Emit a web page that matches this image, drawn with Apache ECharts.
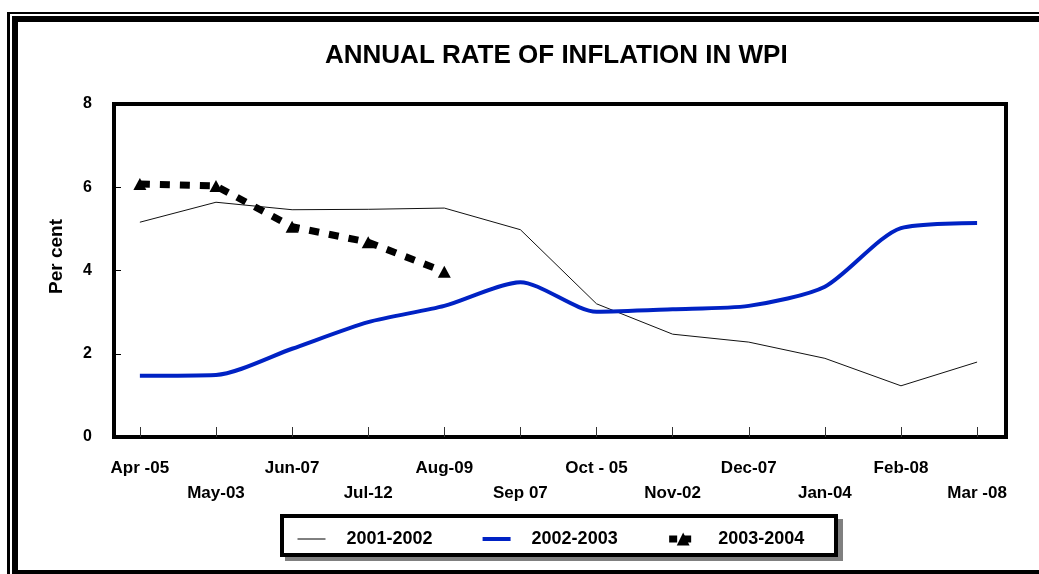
<!DOCTYPE html>
<html lang="en">

<head>
    <meta charset="UTF-8">
    <title>WPI inflation</title>
    <script src="https://cdn.jsdelivr.net/npm/echarts@6/dist/echarts.min.js"></script>
    <style>
        html,
        body {
            margin: 0;
            padding: 0;
            background: #fff;
        }
    </style>
</head>

<body>
    <div id="main" style="width: 1039px;height: 574px;"></div>
    <script type="text/javascript">
        // month labels (as printed on the chart)
        var months = ['Apr -05', 'May-03', 'Jun-07', 'Jul-12', 'Aug-09', 'Sep 07', 'Oct - 05', 'Nov-02', 'Dec-07', 'Jan-04', 'Feb-08', 'Mar -08'];
        var seriesNames = ['2001-2002', '2002-2003', '2003-2004'];
        // per cent
        var inf0102 = [5.16, 5.64, 5.46, 5.47, 5.5, 4.98, 3.2, 2.47, 2.28, 1.89, 1.23, 1.8];
        var inf0203 = [1.47, 1.49, 2.12, 2.76, 3.15, 3.72, 3.01, 3.07, 3.15, 3.61, 5.02, 5.14];
        var inf0304 = [6.08, 6.03, 5.05, 4.68, 3.97];
        var yTicks = [0, 2, 4, 6, 8];

        var font = 'Liberation Sans, Arial, sans-serif';

        function pairs(arr) {
            return arr.map(function (v, i) { return [i, v]; });
        }
        var idx = months.map(function (m, i) { return i; });

        var myEcharts = echarts.init(document.getElementById('main'));
        var option = {
            animation: false,
            backgroundColor: '#fff',
            title: {
                text: 'ANNUAL RATE OF INFLATION IN WPI',
                left: 325,
                top: 43,
                padding: 0,
                textStyle: {
                    fontFamily: font,
                    fontSize: 26,
                    fontWeight: 'bold',
                    color: '#000'
                }
            },
            //外框和图例框
            graphic: [
                { type: 'rect', z: 0, shape: { x: 7, y: 12, width: 1032, height: 2 }, style: { fill: '#000' } },
                { type: 'rect', z: 0, shape: { x: 7, y: 12, width: 3, height: 562 }, style: { fill: '#000' } },
                { type: 'rect', z: 0, shape: { x: 12, y: 16, width: 1027, height: 6 }, style: { fill: '#000' } },
                { type: 'rect', z: 0, shape: { x: 12, y: 16, width: 6, height: 558 }, style: { fill: '#000' } },
                { type: 'rect', z: 0, shape: { x: 12, y: 570, width: 1027, height: 4 }, style: { fill: '#000' } },
                { type: 'rect', z: 0, shape: { x: 285, y: 519, width: 558, height: 42 }, style: { fill: '#808080' } },
                { type: 'rect', z: 1, shape: { x: 282, y: 516, width: 554, height: 39 }, style: { fill: '#fff', stroke: '#000', lineWidth: 4 } }
            ],
            legend: {
                data: [
                    { name: seriesNames[0], itemStyle: { opacity: 0 }, lineStyle: { width: 1, color: '#000' } },
                    { name: seriesNames[1], itemStyle: { opacity: 0 }, lineStyle: { width: 4, color: '#0022c4' } },
                    { name: seriesNames[2], lineStyle: { width: 7, color: '#000', type: [8, 6] } }
                ],
                left: 292,
                top: 525,
                z: 10,
                itemWidth: 28,
                itemHeight: 16,
                itemGap: 48,
                textStyle: {
                    fontFamily: font,
                    fontSize: 18,
                    fontWeight: 'bold',
                    color: '#000',
                    padding: [0, 0, 0, 16]
                }
            },
            grid: {
                show: true,
                left: 114,
                right: 33,
                top: 104,
                bottom: 137,
                borderColor: '#000',
                borderWidth: 4,
                backgroundColor: 'transparent'
            },
            xAxis: {
                type: 'value',
                min: -0.34,
                max: 11.38,
                axisLine: { show: false, onZero: false },
                splitLine: { show: false },
                axisTick: {
                    customValues: idx,
                    inside: true,
                    length: 10,
                    lineStyle: { color: '#333', width: 1 }
                },
                axisLabel: {
                    customValues: idx,
                    margin: 19,
                    lineHeight: 25,
                    fontFamily: font,
                    fontSize: 17,
                    fontWeight: 'bold',
                    color: '#000',
                    formatter: function (v) {
                        var i = Math.round(v);
                        return i % 2 ? '\n' + months[i] : months[i];
                    }
                }
            },
            yAxis: {
                type: 'value',
                min: 0,
                max: 8,
                interval: 2,
                name: 'Per cent',
                nameLocation: 'middle',
                nameRotate: 90,
                nameGap: 48,
                nameTextStyle: {
                    fontFamily: font,
                    fontSize: 19,
                    fontWeight: 'bold',
                    color: '#000',
                    padding: [0, 0, 0, 28]
                },
                axisLine: { show: false, onZero: false },
                splitLine: { show: false },
                axisTick: {
                    inside: true,
                    length: 7,
                    lineStyle: { color: '#000', width: 1 }
                },
                axisLabel: {
                    margin: 22,
                    fontFamily: font,
                    fontSize: 16,
                    fontWeight: 'bold',
                    color: '#000',
                    customValues: yTicks
                }
            },
            series: [{
                name: seriesNames[0],
                type: 'line',
                data: pairs(inf0102),
                symbol: 'none',
                lineStyle: { color: '#111', width: 1 },
                itemStyle: { color: '#111' }
            }, {
                name: seriesNames[1],
                type: 'line',
                data: pairs(inf0203),
                symbol: 'none',
                smooth: 0.25,
                lineStyle: { color: '#0022c4', width: 4 },
                itemStyle: { color: '#0022c4' }
            }, {
                name: seriesNames[2],
                type: 'line',
                data: pairs(inf0304),
                symbol: 'triangle',
                symbolSize: [13, 12],
                lineStyle: { color: '#000', width: 7, type: [10, 10] },
                itemStyle: { color: '#000' }
            }]
        };
        myEcharts.setOption(option);
    </script>
</body>

</html>
